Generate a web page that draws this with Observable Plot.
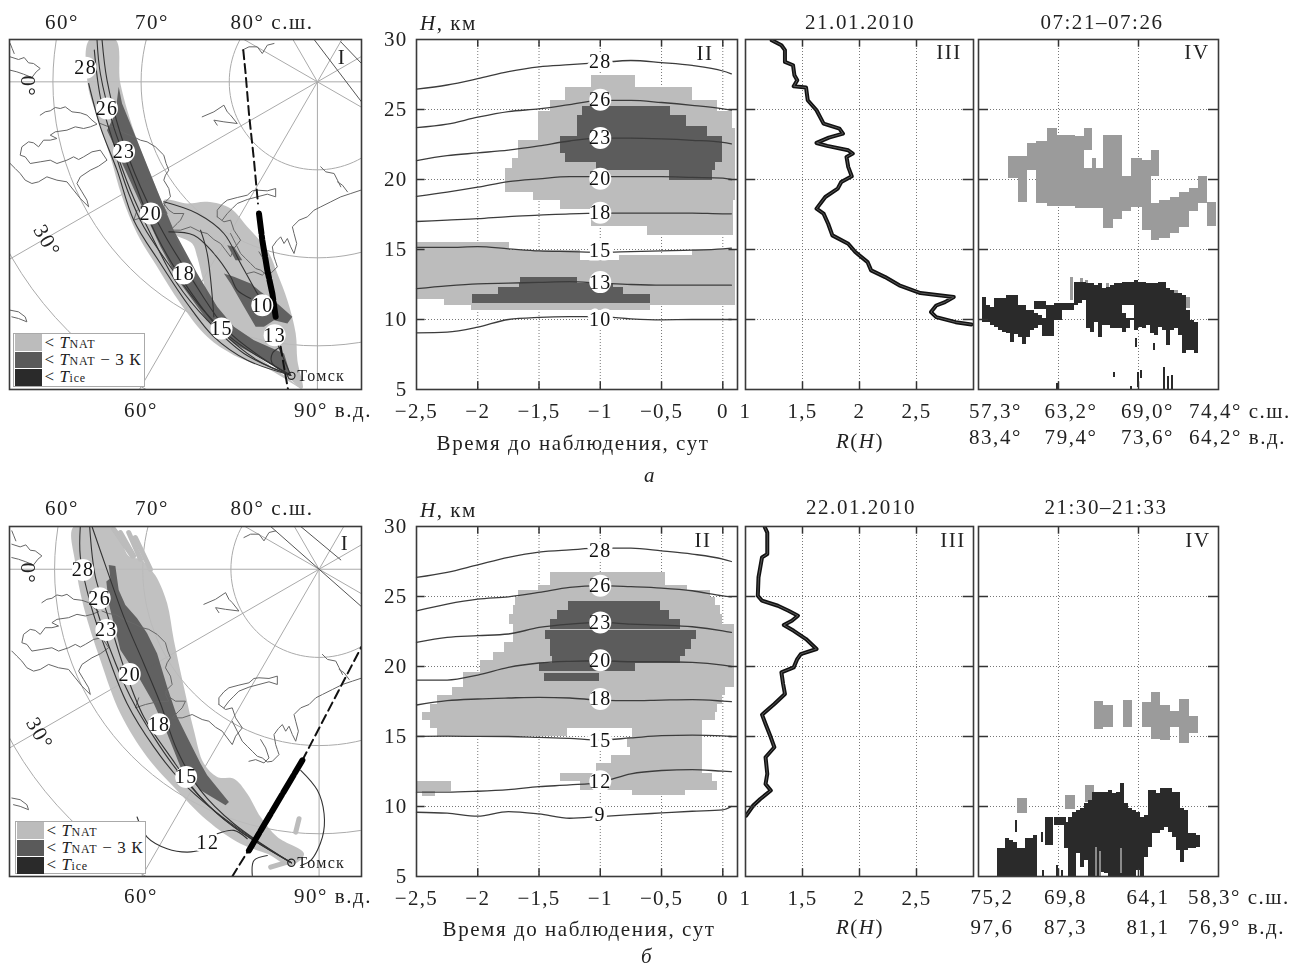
<!DOCTYPE html>
<html><head><meta charset="utf-8">
<script src="https://cdn.jsdelivr.net/npm/d3@7"></script>
<script src="https://cdn.jsdelivr.net/npm/@observablehq/plot@0.6"></script>
<style>
html,body{margin:0;padding:0;background:#fff}
#root{position:relative;width:1290px;height:969px;overflow:hidden;font-family:"Liberation Serif",serif;color:#222;filter:blur(0.4px)}
.lb{position:absolute;white-space:nowrap;font-size:21px;letter-spacing:1.55px;line-height:1}
.legend{position:absolute;background:#fff;border:1px solid #aaa;box-sizing:border-box;font-size:17px;letter-spacing:.6px}
.legend .row{display:flex;align-items:center;height:17.4px}
.legend .sw{width:27px;height:16.5px;margin-right:3px;flex:none}
.legend small{font-size:12px;letter-spacing:.8px}
</style></head><body><div id="root"></div>
<script>
const SERIF = '"Liberation Serif",serif';
const LIGHT = "#bcbcbc", DARK = "#5c5c5c", ICE = "#2a2a2a", LIDAR_GREY = "#9b9b9b";

// ---- Panel II: time before observation (days) and isotherm samples
const times = [-2.5,-2.25,-2,-1.75,-1.5,-1.25,-1,-0.75,-0.5,-0.25,0,0.07];
const contoursA = {
  28:[26.45,26.75,27.2,27.7,28.05,28.2,28.35,28.5,28.35,28.15,27.75,27.55],
  26:[23.7,23.95,24.45,24.85,25.05,25.35,25.65,25.65,25.5,25.3,25.05,24.95],
  23:[21.35,21.7,21.9,22.1,22.4,22.75,22.95,22.95,22.9,22.8,22.65,22.55],
  20:[18.8,19.1,19.45,19.85,20.05,20.2,20.2,20.2,20.2,20.15,20.1,20.0],
  18:[17,17.1,17.2,17.35,17.45,17.55,17.6,17.6,17.6,17.6,17.55,17.55],
  15:[15.15,15.15,15.2,15.05,14.9,14.85,14.8,14.85,14.9,14.95,15.05,15.1],
  13:[12.2,12.4,12.55,12.6,12.65,12.7,12.6,12.5,12.45,12.45,12.45,12.45],
  10:[9.05,9.1,9.45,10.0,10.15,10.2,10.2,10.05,9.98,10,10,10]
};
const contoursB = {
  28:[26.36,26.72,27.26,27.79,28.17,28.33,28.45,28.45,28.26,28.03,27.67,27.5],
  26:[23.98,24.46,24.81,24.98,25.29,25.65,25.77,25.7,25.6,25.41,25.05,24.98],
  23:[21.72,22.08,22.2,22.32,22.79,23.03,23.15,23.03,22.96,22.84,22.55,22.44],
  20:[19.03,19.03,19.39,19.94,20.25,20.37,20.41,20.34,20.34,20.3,20.1,20.0],
  18:[17.25,17.56,17.68,17.75,17.8,17.75,17.6,17.56,17.6,17.63,17.53,17.49],
  15:[15.01,15.02,15.01,15.0,14.94,14.87,14.75,14.9,15.06,15.1,15.05,15.0],
  12:[11.02,11.02,11.09,11.21,11.42,11.54,11.73,12.33,12.57,12.64,12.52,12.49],
  9:[9.59,9.52,9.31,9.64,9.47,9.16,9.28,9.42,9.54,9.66,9.76,10.0]
};
// [label, height, disc?]
const isoLabelsA = [["28",28.4,0],["26",25.7,1],["23",22.97,1],["20",20.06,1],["18",17.63,1],["15",14.94,0],["13",12.67,1],["10",9.97,0]];
const isoLabelsB = [["28",28.3,0],["26",25.77,1],["23",23.15,1],["20",20.45,1],["18",17.68,1],["15",14.72,0],["12",11.8,1],["9",9.42,0]];
// rows: [H top, H bottom, t left, t right]
const lightA = [
 [27.45,26.57,-1.074,-0.712],[26.57,25.66,-1.284,-0.25],[25.66,24.83,-1.406,-0.046],[24.83,23.64,-1.501,0.082],
 [23.64,22.8,-1.501,0.1],[22.8,21.5,-1.665,0.1],[21.5,20.78,-1.719,0.1],[20.78,19.1,-1.773,0.1],[19.5,19.1,-1.746,0.1],
 [19.1,18.5,-1.542,0.1],[18.5,17.87,-1.324,0.09],[17.87,16.65,-1.074,0.09],[16.65,16.0,-0.617,0.09],
 [15.5,14.9,-2.5,-1.74],[15.0,14.6,-0.25,0.1],[14.9,14.2,-2.5,-1.16],[14.6,14.2,-0.84,0.1],[14.2,11.4,-2.5,0.1],
 [11.4,11.0,-2.27,0.1],[11.0,10.65,-2.05,-0.59]];
const darkA = [
 [25.23,24.59,-1.142,-0.427],[24.59,23.8,-1.183,-0.299],[23.8,23.09,-1.183,-0.127],[23.09,21.85,-1.324,-0.005],
 [21.85,21.2,-1.281,-0.005],[21.2,20.61,-1.03,-0.06],[20.61,19.94,-0.437,-0.086],
 [13.03,12.44,-1.651,-1.188],[12.6,12.32,-1.656,-0.889],[12.32,11.77,-1.828,-0.807],[11.77,11.17,-2.046,-0.59]];
const lightB = [
 [26.72,25.77,-1.406,-0.467],[25.77,25.41,-1.501,-0.29],[25.41,24.93,-1.665,-0.1],[24.93,24.34,-1.692,-0.059],
 [24.34,23.74,-1.705,-0.018],[23.74,23.03,-1.738,-0.005],[23.03,21.72,-1.705,0.099],[21.72,21.0,-1.782,0.099],
 [21.0,20.41,-1.869,0.099],[20.41,19.58,-1.978,0.099],[19.58,18.51,-2.114,0.099],[18.51,17.92,-2.209,0.022],
 [17.92,17.32,-2.331,-0.005],[17.32,16.73,-2.386,-0.046],[16.73,16.13,-2.448,-0.059],[16.13,15.54,-2.386,-0.168],
 [15.54,15.0,-2.326,-1.27],[15.54,14.94,-0.739,-0.168],[14.94,14.23,-0.78,-0.168],[14.23,13.63,-0.753,-0.168],
 [13.63,13.04,-0.908,-0.168],[13.04,12.37,-1.03,-0.168],[12.37,11.8,-1.324,-0.086],[11.8,11.14,-1.161,-0.046],
 [11.14,10.78,-0.739,-0.304],[11.8,11.07,-2.49,-2.217],[11.07,10.73,-2.454,-2.345]];
const darkB = [
 [24.65,23.98,-1.256,-0.508],[23.98,23.39,-1.352,-0.432],[23.39,22.67,-1.406,-0.345],[22.6,21.96,-1.447,-0.214],
 [21.96,21.25,-1.406,-0.258],[21.25,20.72,-1.406,-0.304],[20.72,20.25,-1.392,-0.345],[20.25,19.63,-1.493,-0.712],[19.51,18.92,-1.455,-1.006]];

// ---- Panel III: scattering ratio profiles
const profileHA = [29.95,29.59,29.24,28.4,28.16,27.45,27.09,26.66,26.57,25.66,24.95,23.99,23.64,23.28,22.99,22.61,22.4,22.09,21.85,21.61,20.9,20.23,19.82,19.35,18.75,17.92,17.56,16.84,16.01,15.41,14.82,14.1,13.51,13.03,12.44,11.89,11.6,11.24,11.0,10.53,10.17,9.81,9.65];
const profileRA = [1.23,1.315,1.346,1.346,1.417,1.429,1.454,1.423,1.531,1.546,1.623,1.685,1.824,1.855,1.731,1.623,1.716,1.901,1.941,1.886,1.901,1.932,1.84,1.809,1.70,1.623,1.685,1.725,1.762,1.901,1.963,2.071,2.102,2.225,2.349,2.534,2.827,2.75,2.673,2.627,2.673,2.843,2.981];
const profileHB = [29.93,29.57,28.03,27.79,26.36,25.05,24.7,24.34,23.98,23.63,23.27,22.96,22.55,21.96,21.25,20.89,20.53,19.94,19.58,18.75,18.04,17.32,16.56,15.89,14.94,14.23,13.52,12.33,11.61,11.14,10.54,10.07,9.35];
const profileRB = [1.17,1.191,1.191,1.145,1.114,1.108,1.145,1.284,1.377,1.46,1.407,1.336,1.423,1.531,1.623,1.485,1.454,1.423,1.315,1.33,1.346,1.253,1.145,1.176,1.222,1.253,1.176,1.191,1.176,1.222,1.13,1.068,1.006];

// ---- Panel IV: lidar cross-section, x is position along the orbit segment (0..240)
// grey boxes: [x1, x2, H top, H bottom]
const natA = [
 [30,49,21.66,20.06],[40,49,20.06,18.39],[49,58,22.56,20.66],[58,69,22.75,18.27],[69,79,23.64,18.04],[79,97,23.16,18.04],
 [97,106,23.04,17.92],[106,114,23.64,22.09],[106,114,20.78,17.92],[114,125,20.78,17.92],[114,118,21.5,20.78],[125,135,23.11,16.49],[135,144,23.11,17.13],
 [144,153,20.18,17.75],[153,164,21.49,17.99],[164,173,21.37,16.37],[173,181,22.04,20.18],[173,181,18.27,15.65],[181,192,18.51,15.77],
 [192,201,18.75,16.13],[201,211,19.1,16.6],[211,220,19.35,17.75],[220,229,20.18,18.27],[229,238,18.35,16.65],
 [92,95,13.03,11.36],[102,105,12.9,11.4],[107,110,12.8,11.4],[128,131,12.55,11.48],[196,200,12.07,11.12],[208,212,11.6,10.76]];
const natB = [
 [116,125,17.51,15.47],[125,135,17.2,15.66],[145,154,17.56,15.61],[164,173,17.44,15.61],[173,182,18.15,14.82],[182,192,17.2,14.75],
 [192,201,16.8,15.61],[201,211,17.61,14.47],[211,220,16.42,15.25],[39,49,10.54,9.52],[87,97,10.78,9.78],[107,116,11.49,10.3]];
// dark columns: [x centre, H top, H bottom]
const iceA = [
 [6,11.6,9.81],[10,11.0,9.81],[14,10.88,9.57],[18,11.48,9.41],[22,11.48,9.21],[26,11.48,9.1],[30,11.71,8.98],[34,11.71,8.38],[38,11.71,8.9],
 [42,11.0,8.74],[46,11.0,8.21],[50,10.64,8.69],[54,10.64,9.21],[58,10.41,9.33],[58,11.31,10.69],[62,10.29,9.57],[62,11.31,10.69],[66,10.05,8.79],[66,11.31,10.69],
 [70,11.0,8.79],[74,11.0,8.79],[78,11.12,9.93],[82,11.12,9.93],[86,11.12,10.64],[90,11.12,10.64],[94,11.12,10.64],[98,12.67,11.0],[102,12.67,11.12],
 [106,12.67,11.36],[110,12.55,9.33],[114,12.55,9.1],[118,12.43,9.81],[122,12.55,8.74],[126,12.19,9.57],[130,12.31,9.57],[134,12.43,9.33],[138,12.55,9.33],
 [142,12.55,9.33],[146,12.67,11.0],[146,10.41,9.1],[150,12.67,11.0],[150,10.05,9.33],[154,12.67,11.0],[154,10.05,9.9],[158,12.79,9.21],[162,12.67,9.45],[166,12.67,9.33],
 [170,12.55,9.57],[174,12.55,8.98],[178,12.55,8.86],[182,12.67,9.45],[186,12.67,9.21],[190,12.19,8.14],[194,12.07,9.21],[198,11.83,9.33],[202,11.83,8.86],
 [206,11.71,7.55],[210,10.64,7.79],[214,9.93,7.79],[218,9.81,7.55]];
const iceSpecksA = [[158,8.62,8.02],[176,8.26,7.79],[136,6.24,5.88],[160,6.24,5.12],[163,6.36,5.76],[186,6.6,5.0],[190,5.93,5],[194,6,5],[153,5.2,5],[79,5.45,5]];
const iceB = [
 [21,6.97,5],[25,6.97,5],[29,7.69,5],[33,7.57,5],[37,7.45,5],[41,6.97,5],[45,6.97,5],[49,7.69,5],[53,7.69,5],[57,7.93,5],
 [69,9.24,7.2],[73,9.24,7.2],[78,9.24,8.64],[82,9.24,8.64],[86,9.24,8.64],[88,8.88,6.97],[92,9.24,5],[96,9.6,5],[100,9.71,6.62],[104,9.83,5.67],[108,10.19,6.14],
 [112,10.43,5],[116,11.02,5],[120,11.02,5],[124,11.02,5.31],[128,11.02,5.19],[132,11.14,5],[136,10.9,5],[140,11.02,5],[144,11.62,5],[148,10.19,5],[152,9.83,5],
 [156,9.71,5],[160,9.6,5.43],[164,9.24,5],[168,9.36,6.38],[172,11.14,7.09],[176,11.14,8.05],[180,10.9,8.05],[184,11.26,8.29],[188,11.26,8.52],[192,11.26,8.17],
 [196,11.02,7.81],[200,11.02,6.86],[204,9.83,6.02],[208,9.71,6.86],[212,8.05,6.97],[216,8.05,6.97],[220,7.93,7.09]];
const iceSpecksB = [[38,9.0,8.15],[64,8.17,7.45],[65,5.43,5],[79,5.8,5],[84,5.43,5]];
const stripesB = [[118,7.1,5],[122,6.8,5],[143,7.0,5.2]];

// ---- Tick labels
const xTicksII = [-2.5,-2,-1.5,-1,-0.5,0];
const hTicks = [30,25,20,15,10,5];
const xTicksIII = [1,1.5,2,2.5];
const lidarTicks = [80,160];
const latLabelsA = ["57,3°","63,2°","69,0°","74,4° с.ш."];
const lonLabelsA = ["83,4°","79,4°","73,6°","64,2° в.д."];
const latLabelsB = ["75,2","69,8","64,1","58,3° с.ш."];
const lonLabelsB = ["97,6","87,3","81,1","76,9° в.д."];
const legendLabels = ["&lt; <i>T</i><small>NAT</small>","&lt; <i>T</i><small>NAT</small> − 3 К","&lt; <i>T</i><small>ice</small>"];

// ---- Panel I: map, in map-sheet units (three per screen pixel)
const coast = [
 [[30,170],[55,178],[72,172],[85,188],[100,190],[120,205],[108,215],[95,232],[70,222],[50,215],[30,210]],
 [[30,130],[36,145],[42,160]],
 [[120,345],[135,335],[150,332],[165,322],[180,325],[195,320],[215,335],[240,338],[260,345],[275,360],[290,372],[270,380],[250,385],[225,380],[200,390],[165,395],[150,405],[170,415],[150,420],[130,420],[115,440],[100,428],[85,425],[65,440],[60,465],[75,470],[90,490],[120,485],[150,480],[170,490],[200,480],[220,470],[235,478],[250,470],[275,455],[300,450],[320,480],[295,498],[270,510],[240,530],[230,550],[245,575],[260,600],[265,620],[240,595],[220,570],[200,545],[170,540],[140,530],[115,545],[95,550],[75,540],[60,520],[45,505],[30,490]],
 [[300,370],[320,378],[340,380],[370,398],[400,410],[420,420],[440,425],[465,440],[490,465],[497,490],[505,510],[495,525],[490,540],[505,565],[510,590],[495,605],[490,620],[500,640],[465,642],[430,650],[400,660],[410,630]],
 [[490,610],[505,630],[520,640],[550,640],[540,660],[530,670],[510,690],[540,690],[570,680],[600,695],[620,700],[640,718],[660,730],[675,750],[690,770],[700,745],[720,720],[700,690],[690,660],[670,665],[650,650]],
 [[650,650],[650,630],[665,612],[680,600],[710,592],[740,585],[755,572],[770,570],[800,572],[825,565],[825,590],[800,582],[770,590],[740,598],[710,610],[695,625],[680,640],[665,660]],
 [[690,700],[705,730],[720,760],[735,775],[750,790],[765,805],[780,810],[795,822],[810,820],[830,800],[825,785],[820,770],[815,740],[828,722],[840,710],[850,730],[860,715],[870,740],[880,760],[888,730],[880,700],[875,680],[895,660],[920,650],[940,630],[960,620],[990,605],[1020,590],[1050,580],[1080,570]],
 [[740,820],[760,815],[785,825],[800,810],[790,780],[775,755]],
 [[605,350],[640,335],[670,315],[680,335],[690,345],[710,370],[670,365],[640,360],[650,375]],
 [[725,150],[745,140],[770,140],[785,160],[800,135],[820,130]],
 [[960,500],[975,515],[1000,520],[1010,540],[1020,560]],
 [[1010,545],[1025,555],[1040,575]],
 [[30,930],[55,935],[75,950],[80,965],[55,955],[35,950]]
];
const gridLats = [80,70,60,50];
const gridLons = [0,30,60,90,150,180,210,240,300,330];
const mapA = {
 domX:[28,1082], domY:[1168,118], pole:[950,245], dx:0, dy:0,
 lightBands:[
  [[268,118],[345,118],[360,250],[410,420],[470,570],[520,700],[590,850],[640,950],[720,1030],[800,1090],[870,1140],[905,1168],[800,1105],[700,1065],[620,1010],[540,910],[470,800],[410,700],[365,590],[330,470],[290,350],[262,250]],
  [[490,600],[560,610],[620,605],[690,625],[740,680],[800,750],[830,820],[860,900],[885,1000],[890,1080],[905,1165],[860,1130],[640,950],[610,850],[590,770],[575,730],[520,700],[500,650]]
 ],
 darkBands:[
  [[355,260],[365,310],[410,420],[470,570],[520,690],[590,820],[650,920],[700,980],[760,1020],[850,1060],[870,1125],[800,1085],[700,1030],[620,960],[540,850],[480,740],[420,610],[370,500],[320,390],[345,340]],
  [[670,820],[700,830],[750,850],[780,875],[830,910],[875,950],[860,970],[820,960],[790,980],[765,980],[730,920],[690,850]],
  [[680,735],[700,740],[725,780],[705,780]]
 ],
 paleStrokes:[],
 tracks:[
  [[290,118],[300,220],[340,380],[400,540],[470,710],[560,860],[660,990],[770,1080],[870,1125]],
  [[305,118],[320,240],[360,400],[420,560],[490,700],[570,830],[680,990],[780,1070],[870,1125]],
  [[282,150],[300,290],[340,430],[390,570],[450,700],[530,850],[620,960],[730,1060],[870,1125]],
  [[265,250],[300,380],[350,510],[400,660],[480,790],[560,910],[640,1010],[740,1080],[870,1125]],
  [[345,460],[385,580],[430,680],[510,800],[600,920],[700,1020],[870,1125]],
  [[490,605],[590,640],[670,700],[720,790],[770,880],[790,910]],
  [[505,695],[580,705],[640,760],[690,830],[710,870],[750,895]],
  [[600,690],[620,760],[640,950]],
  [[840,1040],[815,1060],[815,1090],[870,1125]],
  [[830,1030],[870,1125]]
 ],
 farOrbits:[[[940,118],[1082,305]],[[1020,125],[1082,190]]],
 thinDash:[[[728,150],[735,220],[745,340],[760,480],[772,610]],[[840,1040],[850,1100],[862,1168]]],
 thickDash:[[775,640],[785,720],[800,810],[815,880],[825,950]],
 labels:[["28",256,203,1],["26",320,325,1],["23",371,455,1],["20",451,640,1],["18",550,820,1],["15",663,985,1],["10",785,915,1],["13",822,1005,1]],
 tomsk:[872,1127], zero:[82,258], thirty:[140,722]
};
const mapB = {
 domX:[28,1082], domY:[1158,110], pole:[955,238], dx:5/3, dy:-7/3,
 lightBands:[
  [[220,110],[340,110],[385,198],[420,208],[450,238],[470,265],[500,340],[520,450],[550,590],[580,720],[610,820],[650,860],[700,865],[740,910],[780,980],[830,1040],[910,1090],[870,1125],[800,1090],[720,1060],[620,990],[520,890],[440,800],[360,670],[300,510],[250,350],[225,220]]
 ],
 darkBands:[
  [[325,225],[345,228],[355,300],[375,345],[410,385],[440,430],[470,490],[500,590],[530,680],[560,740],[600,820],[620,855],[685,935],[675,945],[600,900],[540,830],[500,730],[460,640],[420,570],[360,480],[340,400],[325,340],[318,275],[330,265]]
 ],
 paleStrokes:[[[340,118],[395,198]],[[360,128],[400,198]],[[385,128],[420,208]],[[405,143],[450,238]],[[895,985],[885,1025]],[[810,1130],[860,1115]]],
 tracks:[
  [[240,110],[240,200],[270,340],[320,490],[380,640],[460,770],[540,870],[640,960],[750,1040],[872,1117]],
  [[268,110],[285,260],[320,370],[370,530],[430,680],[510,800],[600,920],[700,1010],[872,1117]],
  [[275,110],[320,240],[370,380],[430,520],[480,640],[530,780],[600,900],[700,1000],[872,1117]],
  [[285,345],[330,480],[390,620],[460,740],[530,840],[650,970],[760,1050],[872,1117]],
  [[410,980],[440,1040],[500,1075],[560,1085],[620,1075]],
  [[650,1030],[700,1020],[740,1045]],
  [[755,1155],[760,1110],[800,1095]],
  [[900,840],[950,900],[970,970],[965,1040],[930,1110],[900,1125]]
 ],
 farOrbits:[[[810,110],[1082,350]],[[900,110],[1020,210]]],
 thinDash:[[[695,1158],[740,1085]],[[905,810],[1082,470]]],
 thickDash:[[745,1080],[905,810]],
 labels:[["28",248,240,1],["26",298,325,1],["23",318,420,1],["20",388,552,1],["18",476,702,1],["15",557,860,1],["12",622,1055,0]],
 tomsk:[872,1117], zero:[82,250], thirty:[118,730]
};

// ---- Helpers
const root = document.getElementById("root");
function label(x,y,html,anchor,extra){
  const d = document.createElement("div");
  d.className = "lb"; d.innerHTML = html;
  d.style.left = x+"px"; d.style.top = y+"px";
  d.style.transform = anchor==="start" ? "translate(0,-50%)" : "translate(-50%,-50%)";
  if(extra) Object.assign(d.style,extra);
  root.appendChild(d);
}
function place(opts,left,top){
  const svg = Plot.plot({...opts, style:{position:"absolute",left:left+"px",top:top+"px",background:"transparent",overflow:"visible",maxWidth:"none",fontFamily:SERIF,fontSize:"21px",letterSpacing:"1.3px",color:"#222"}});
  root.appendChild(svg);
}
const fmt = v => String(v).replace(".",",").replace("-","−");
function frameMarks(xt,yt,xLo,xHi,xLen){
  return [
    Plot.ruleX(xt,{y1:30,y2:29.45,stroke:"#333",strokeWidth:1.5}),
    Plot.ruleX(xt,{y1:5,y2:5.55,stroke:"#333",strokeWidth:1.5}),
    Plot.ruleY(yt,{x1:xLo,x2:xLo+xLen,stroke:"#333",strokeWidth:1.5}),
    Plot.ruleY(yt,{x1:xHi-xLen,x2:xHi,stroke:"#333",strokeWidth:1.5}),
    Plot.frame({stroke:"#3a3a3a",strokeWidth:1.6})
  ];
}
function gridMarks(xt,yt){
  return [
    Plot.ruleX(xt,{stroke:"#777",strokeWidth:1,strokeDasharray:"1 2"}),
    Plot.ruleY(yt,{stroke:"#777",strokeWidth:1,strokeDasharray:"1 2"})
  ];
}
const rowRects = (rows,fill) => Plot.rect(rows,{x1:d=>d[2],x2:d=>d[3],y1:d=>d[0],y2:d=>d[1],fill,shapeRendering:"crispEdges"});

function panelII(contours,isoLabels,light,dark,left,top){
  const yMid = [25,20,15,10];
  const marks = [
    ...gridMarks([-2,-1.5,-1,-0.5,0],yMid),
    rowRects(light,LIGHT), rowRects(dark,DARK)
  ];
  for(const [k,vals] of Object.entries(contours)){
    marks.push(Plot.line(times.map((t,i)=>[t,vals[i]]),{x:d=>d[0],y:d=>d[1],stroke:"#3c3c3c",strokeWidth:1.3,curve:"monotone-x"}));
  }
  marks.push(
    Plot.dot(isoLabels.filter(d=>d[2]),{x:()=>-1,y:d=>d[1],r:11,fill:"white",stroke:"none"}),
    Plot.text(isoLabels,{x:()=>-1,y:d=>d[1],text:d=>d[0],fontSize:20,fill:"#111",stroke:d=>d[2]?"none":"white",strokeWidth:7}),
    ...frameMarks([-2,-1.5,-1,-0.5,0],yMid,-2.5,0.12,0.07),
    Plot.axisX(xTicksII,{anchor:"bottom",tickSize:0,tickPadding:14,tickFormat:fmt,label:null}),
    Plot.axisY(hTicks,{anchor:"left",tickSize:0,tickPadding:9,label:null})
  );
  place({width:321+42+3,height:350+3+42,marginLeft:42,marginRight:3,marginTop:3,marginBottom:42,
    x:{domain:[-2.5,0.12]},y:{domain:[5,30]},marks},left-42,top-3);
}
function panelIII(hs,rs,left,top){
  const pts = hs.map((h,i)=>[rs[i],h]);
  const marks = [
    ...gridMarks([1.5,2,2.5],[25,20,15,10]),
    Plot.line(pts,{x:d=>d[0],y:d=>d[1],stroke:"#111",strokeWidth:4,strokeLinejoin:"round",clip:"frame"}),
    Plot.line(pts,{x:d=>d[0],y:d=>d[1],stroke:"#6a6a6a",strokeWidth:0.8,clip:"frame"}),
    ...frameMarks([1.5,2,2.5],[25,20,15,10],1,3,0.09),
    Plot.axisX(xTicksIII,{anchor:"bottom",tickSize:0,tickPadding:14,tickFormat:fmt,label:null})
  ];
  place({width:228+6,height:350+3+42,marginLeft:3,marginRight:3,marginTop:3,marginBottom:42,
    x:{domain:[1,3]},y:{domain:[5,30]},axis:null,marks},left-3,top-3);
}
function panelIV(nat,ice,specks,stripes,left,top){
  const col = (rows,w,fill) => Plot.rect(rows,{x1:d=>d[0]-w,x2:d=>d[0]+w,y1:d=>d[1],y2:d=>d[2],fill,shapeRendering:"crispEdges"});
  const marks = [
    ...gridMarks(lidarTicks,[25,20,15,10]),
    Plot.rect(nat,{x1:d=>d[0],x2:d=>d[1],y1:d=>d[2],y2:d=>d[3],fill:LIDAR_GREY,shapeRendering:"crispEdges"}),
    col(ice,2,ICE), col(specks,1,ICE), col(stripes,0.6,"#8a8a8a"),
    ...frameMarks(lidarTicks,[25,20,15,10],0,240,10)
  ];
  place({width:240+6,height:350+6,marginLeft:3,marginRight:3,marginTop:3,marginBottom:3,
    x:{domain:[0,240]},y:{domain:[5,30]},axis:null,marks},left-3,top-3);
}
function panelI(m,left,top){
  const px = d=>d[0], py = d=>d[1];
  const [cx,cy] = m.pole;
  const perDeg = 26.4;
  const marks = [];
  for(const la of gridLats){
    const r = (90-la)*perDeg;
    const circle = d3.range(0,361,3).map(a=>[cx+r*Math.cos(a*Math.PI/180),cy+r*Math.sin(a*Math.PI/180)]);
    marks.push(Plot.line(circle,{x:px,y:py,stroke:"#aaa",strokeWidth:1,clip:"frame"}));
  }
  for(const lo of gridLons){
    const a = lo*Math.PI/180;
    marks.push(Plot.line([[cx,cy],[cx-1600*Math.cos(a),cy+1600*Math.sin(a)]],{x:px,y:py,stroke:"#aaa",strokeWidth:1,clip:"frame"}));
  }
  for(const b of m.lightBands) marks.push(Plot.line(b,{x:px,y:py,fill:LIGHT,stroke:"none",fillOpacity:.92,curve:"catmull-rom-closed",clip:"frame"}));
  for(const s of m.paleStrokes) marks.push(Plot.line(s,{x:px,y:py,stroke:LIGHT,strokeWidth:5,clip:"frame"}));
  for(const b of m.darkBands) marks.push(Plot.line(b,{x:px,y:py,fill:DARK,stroke:"none",fillOpacity:.95,clip:"frame"}));
  for(const c of coast) marks.push(Plot.line(c,{x:px,y:py,dx:m.dx,dy:m.dy,stroke:"#666",strokeWidth:1,clip:"frame"}));
  for(const t of m.tracks) marks.push(Plot.line(t,{x:px,y:py,stroke:"#333",strokeWidth:1.1,curve:"catmull-rom",clip:"frame"}));
  for(const o of m.farOrbits) marks.push(Plot.line(o,{x:px,y:py,stroke:"#555",strokeWidth:1,clip:"frame"}));
  for(const d of m.thinDash) marks.push(Plot.line(d,{x:px,y:py,stroke:"#111",strokeWidth:2,strokeDasharray:"9 5",clip:"frame"}));
  marks.push(
    Plot.line(m.thickDash,{x:px,y:py,stroke:"#000",strokeWidth:6,strokeDasharray:"20 2.5"}),
    Plot.dot(m.labels.filter(d=>d[3]),{x:d=>d[1],y:d=>d[2],r:11,fill:"white",stroke:"none"}),
    Plot.text(m.labels,{x:d=>d[1],y:d=>d[2],text:d=>d[0],fontSize:20,fill:"#111",stroke:d=>d[3]?"none":"white",strokeWidth:4}),
    Plot.dot([m.tomsk],{x:px,y:py,r:3.6,fill:"none",stroke:"#222",strokeWidth:1.2}),
    Plot.text([m.tomsk],{x:px,y:py,text:()=>"Томск",dx:6,textAnchor:"start",fontSize:16,fill:"#222"}),
    Plot.text([m.zero],{x:px,y:py,text:()=>"0°",rotate:90,fontSize:21,fill:"#222"}),
    Plot.text([m.thirty],{x:px,y:py,text:()=>"30°",rotate:60,fontSize:21,fill:"#222"}),
    Plot.frame({stroke:"#3a3a3a",strokeWidth:1.6})
  );
  place({width:352+6,height:350+6,marginLeft:3,marginRight:3,marginTop:3,marginBottom:3,
    x:{domain:m.domX},y:{domain:m.domY},axis:null,marks},left-3,top-3);
}
function legend(x,y,w,h){
  const colors = [LIGHT,"#5a5a5a","#2a2a2a"];
  const box = document.createElement("div");
  box.className = "legend";
  Object.assign(box.style,{left:x+"px",top:y+"px",width:w+"px",height:h+"px",padding:"0 0 0 1px"});
  box.innerHTML = legendLabels.map((t,i)=>`<div class="row"><span class="sw" style="background:${colors[i]}"></span><span>${t}</span></div>`).join("");
  root.appendChild(box);
}

// ---- Top row (а)
panelI(mapA,9,39);
panelII(contoursA,isoLabelsA,lightA,darkA,416,39);
panelIII(profileHA,profileRA,744.5,39);
panelIV(natA,iceA,iceSpecksA,[],978,39);
legend(12.5,333,132,54);
// ---- Bottom row (б)
panelI(mapB,9,526);
panelII(contoursB,isoLabelsB,lightB,darkB,416,526);
panelIII(profileHB,profileRB,744.5,526);
panelIV(natB,iceB,iceSpecksB,stripesB,978,526);
legend(14.5,821,131,53);

// ---- Text around the panels
const topMapLabels = ["60°","70°","80° с.ш."], mapLabelX = [62,152,272];
mapLabelX.forEach((x,i)=>{label(x,22,topMapLabels[i]);label(x,508,topMapLabels[i]);});
label(141,410,"60°");label(333,410,"90° в.д.");
label(141,896,"60°");label(333,896,"90° в.д.");
label(342,57,"I");label(345,543,"I");
label(420,23,"<i>H</i>, км","start");label(420,510,"<i>H</i>, км","start");
label(705,53,"II");label(703,540,"II");
label(949,52,"III");label(953,540,"III");
label(1197,52,"IV");label(1198,540,"IV");
label(860,22,"21.01.2010");label(1102,22,"07:21–07:26");
label(861,507,"22.01.2010");label(1106,507,"21:30–21:33");
label(573,443,"Время до наблюдения, сут");label(579,929,"Время до наблюдения, сут");
label(860,441,"<i>R</i>(<i>H</i>)");label(860,927,"<i>R</i>(<i>H</i>)");
label(650,475,"<i>а</i>");label(647,956,"<i>б</i>");
const latXA=[969,1044.6,1121,1189], latXB=[970.5,1044,1126.5,1188];
latXA.forEach((x,i)=>{label(x,411,latLabelsA[i],"start");label(x,437,lonLabelsA[i],"start");});
latXB.forEach((x,i)=>{label(x,897,latLabelsB[i],"start");label(x,927,lonLabelsB[i],"start");});
</script></body></html>
